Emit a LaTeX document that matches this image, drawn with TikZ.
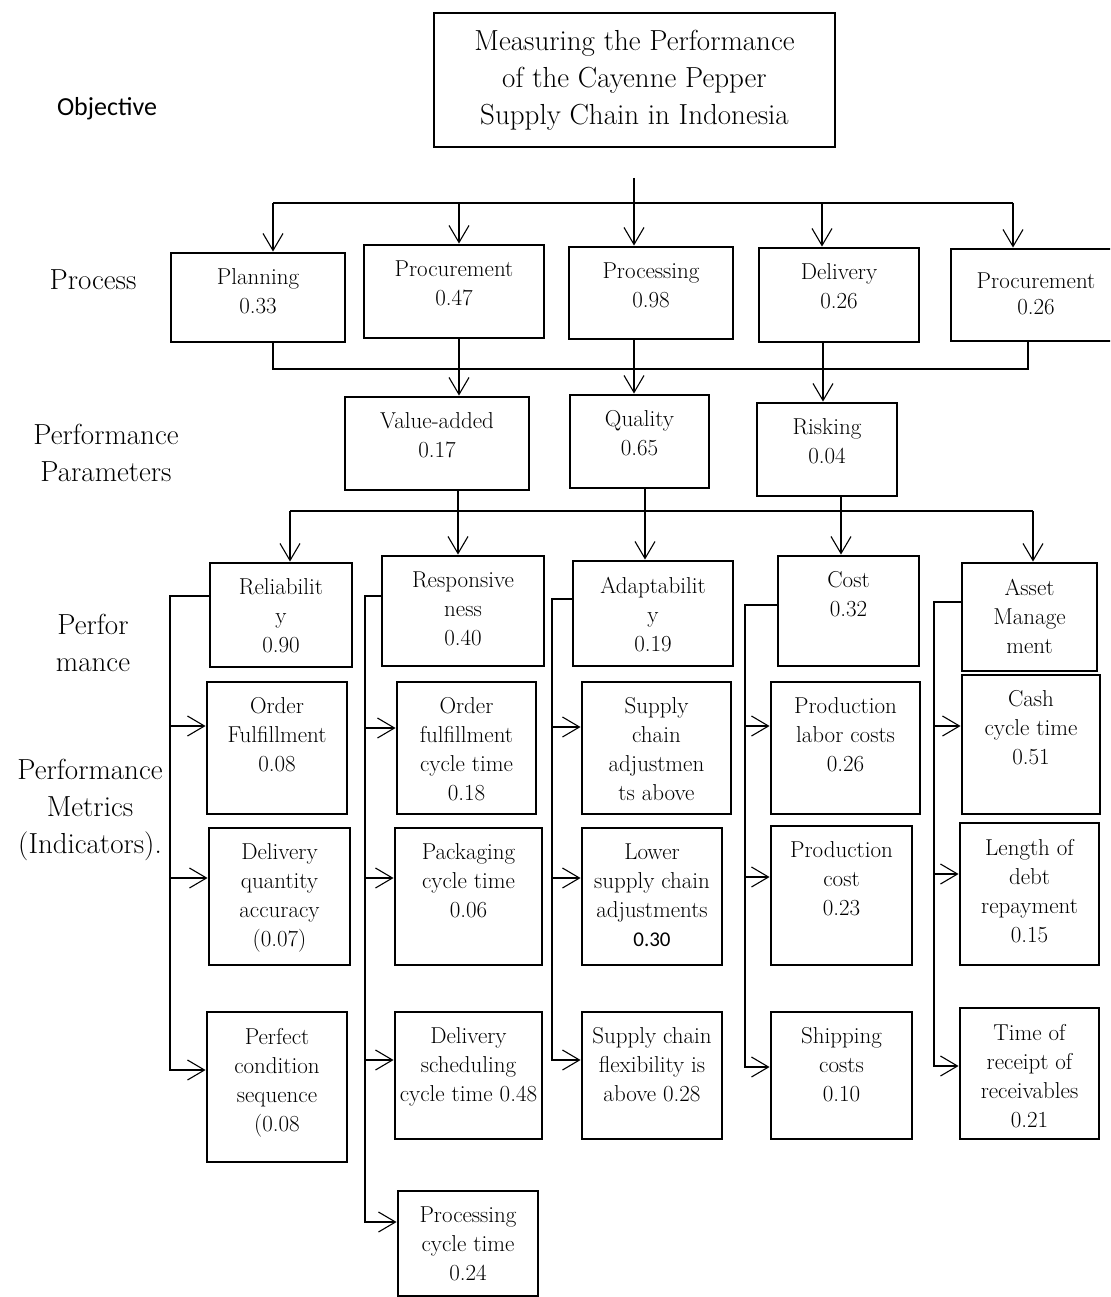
\documentclass[tikz,border=0pt]{standalone}
\usepackage{fontspec}
\newfontfamily\calibri{Carlito}
\usetikzlibrary{arrows.meta}

\begin{document}
\begin{tikzpicture}[x=1pt, y=-1pt, semithick]
  \tikzstyle{box}=[draw, line width=2.9pt, inner sep=0pt]
  \tikzstyle{boxtext}=[anchor=north, align=center, inner sep=17pt,
    font=\fontsize{23}{29}\selectfont]
  \tikzstyle{level}=[align=center, font=\fontsize{29}{37}\selectfont]
  \tikzstyle{wire}=[line width=1.1pt]
  \tikzstyle{arr}=[wire, -{Straight Barb[length=17pt, width=20pt, line width=1.1pt]}]
  \clip (0,0) rectangle (1110,1297);

  % goal and row titles
  \node[box, minimum width=401pt, minimum height=134pt, align=center,
    font=\fontsize{29}{37}\selectfont] (goal) at (634.5,80)
    {Measuring the Performance\\of the Cayenne Pepper\\Supply Chain in Indonesia};
  \node[font=\calibri\fontsize{26}{32}\selectfont] (objl) at (107,109) {Objective};
  \node[level] (procl) at (93,280) {Process};
  \node[level] (paraml) at (106,453) {Performance\\Parameters};
  \node[level] (perfl) at (93,643) {Perfor\\mance};
  \node[level] (metl) at (90,810) {Performance\\Metrics\\(Indicators).};

  % boxes: name/x/y/width/height/text
  \foreach \nm/\x/\y/\bw/\bh/\txt in {
      plan/258/297.5/174/89/{Planning\\0.33},
      procu/454/291.5/180/93/{Procurement\\0.47},
      procs/651/293/164/92/{Processing\\0.98},
      deliv/839/295/160/94/{Delivery\\0.26},
      procv/1036/295/170/92/{\rule{0pt}{24pt}Procurement\\[-3pt]0.26},
      valu/437/443.5/184/93/{Value-added\\0.17},
      qual/639.5/441.5/139/93/{Quality\\0.65},
      risk/827/449.5/140/93/{Risking\\0.04},
      reli/281/615/142/104/{Reliabilit\\y\\0.90},
      resp/463/611/162/110/{Responsive\\ness\\0.40},
      adap/653/613.5/160/105/{Adaptabilit\\y\\0.19},
      cost/848.5/611/141/110/{Cost\\0.32},
      asset/1029.5/617/135/108/{Asset\\Manage\\ment},
      ordf/277/748/140/132/{Order\\Fulfillment\\0.08},
      ofct/466.5/748/139/132/{Order\\fulfillment\\cycle time\\0.18},
      sca/656.5/748/149/132/{Supply\\chain\\adjustmen\\ts above},
      plc/845.5/748/149/132/{Production\\labor costs\\0.26},
      cct/1031/744.5/138/139/{Cash\\cycle time\\0.51},
      dqa/279.5/896.5/141/137/{Delivery\\quantity\\accuracy\\(0.07)},
      pct/468.5/896.5/147/137/{Packaging\\cycle time\\0.06},
      lsca/652/896.5/140/137/{Lower\\supply chain\\adjustments\\{\calibri\fontsize{21}{29}\selectfont 0.30}},
      pc/841.5/895.5/141/139/{Production\\cost\\0.23},
      ldr/1029.5/894/139/142/{Length of\\debt\\repayment\\0.15},
      pcs/277/1087/140/150/{Perfect\\condition\\sequence\\(0.08},
      dsct/468.5/1075.5/147/127/{Delivery\\scheduling\\cycle time 0.48},
      scf/652/1075.5/140/127/{Supply chain\\flexibility is\\above 0.28},
      sc/841.5/1075.5/141/127/{Shipping\\costs\\0.10},
      trr/1029.5/1073.5/139/131/{Time of\\receipt of\\receivables\\0.21},
      prct/468/1243.5/140/105/{Processing\\cycle time\\0.24}}
    \node[box, minimum width=\bw pt, minimum height=\bh pt,
      label={[boxtext]north:\txt}] (\nm) at (\x,\y) {};

  % goal -> processes
  \coordinate (top) at (634,178);
  \coordinate (busA) at (273,203);
  \coordinate (busB) at (1013,203);
  \draw[wire] (busA) -- (busB);
  \draw[arr] (top) -- (procs.north -| top);
  \foreach \x/\b in {273/plan,459/procu,822/deliv,1013/procv}
    \draw[arr] (\x,203) -- (\b.north -| \x,0);

  % processes -> parameters
  \coordinate (busC) at (273,369);
  \coordinate (busD) at (1028,369);
  \draw[wire] (plan.south -| busC) -- (busC) -- (busD) -- (procv.south -| busD);
  \draw[arr] (procu.south -| 459,0) -- (valu.north -| 459,0);
  \draw[arr] (procs.south -| 634,0) -- (qual.north -| 634,0);
  \draw[arr] (deliv.south -| 823,0) -- (risk.north -| 823,0);

  % parameters -> performance
  \coordinate (busE) at (290,511);
  \coordinate (busF) at (1033,511);
  \draw[wire] (busE) -- (busF);
  \draw[arr] (busE) -- (reli.north -| busE);
  \draw[arr] (busF) -- (asset.north -| busF);
  \draw[arr] (valu.south -| 458,0) -- (resp.north -| 458,0);
  \draw[arr] (qual.south -| 645,0) -- (adap.north -| 645,0);
  \draw[arr] (risk.south -| 841,0) -- (cost.north -| 841,0);

  % performance -> metrics
  \foreach \p/\x/\y/\last/\ly in {reli/170/596/pcs/1070, resp/365/596/prct/1222,
      adap/552/599/scf/1060, cost/745/605/sc/1067, asset/934/602/trr/1066}
    \draw[arr] (\p.west |- 0,\y) -| (\x,\ly) -- (\last.west |- 0,\ly);
  \foreach \x/\y/\b in {170/726/ordf, 170/878/dqa, 365/728/ofct, 365/878/pct,
      365/1060/dsct, 552/727/sca, 552/878/lsca, 745/726/plc, 745/877/pc,
      934/726/cct, 934/874/ldr}
    \draw[arr] (\x,\y) -- (\b.west |- 0,\y);
\end{tikzpicture}
\end{document}
